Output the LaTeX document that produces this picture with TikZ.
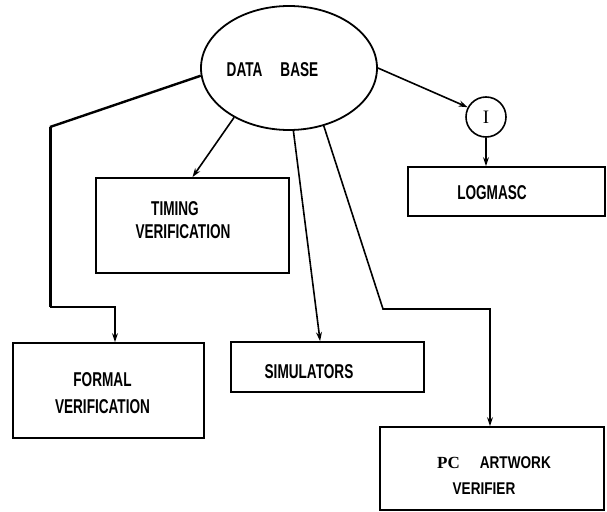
\documentclass[tikz,border=0pt]{standalone}
\usepackage{fontspec}
\setmainfont{Liberation Sans}[FakeStretch=0.68]
\newfontfamily\widesans{Liberation Sans}[FakeStretch=0.8]
\newfontfamily\pcserif{Liberation Serif}
\usetikzlibrary{arrows.meta,shapes.geometric}

\tikzset{
  conn/.style={line width=1.6pt, -{Stealth[length=9pt,width=6pt]}},
  heavyline/.style={line width=3pt},
  boxnode/.style={draw, line width=1.8pt, rectangle, inner sep=0pt},
  lbl/.style={inner sep=0pt, align=center, font=\bfseries\fontsize{20}{23}\selectfont},
}

\begin{document}
\begin{tikzpicture}[x=1pt, y=-1pt]
\useasboundingbox (0,0) rectangle (607,511);

% central data base
\node[draw, ellipse, line width=1.8pt, inner sep=0pt,
      minimum width=176pt, minimum height=124pt,
      label={[lbl, name=dbtext, xshift=-16.5pt, yshift=-2pt]center:DATA\kern18pt BASE}]
  (db) at (289,68) {};

% interface circle
\node[draw, circle, line width=1.6pt, inner sep=0pt, minimum size=40pt,
      font=\pcserif\fontsize{19}{23}\selectfont]
  (circ) at (486,117) {I};

% tool boxes
\node[boxnode, minimum width=193pt, minimum height=95pt,
      label={[lbl, name=timingtext, xshift=-9.5pt, yshift=5pt]center:TIMING\kern16pt\\VERIFICATION}]
  (timing) at (192.5,225.5) {};

\node[boxnode, minimum width=197pt, minimum height=49pt,
      label={[lbl, name=logtext, xshift=-14.5pt, yshift=-1.5pt]center:LOGMASC}]
  (logmasc) at (506.5,191.5) {};

\node[boxnode, minimum width=191pt, minimum height=95pt,
      label={[lbl, name=formaltext, xshift=-6pt, yshift=-3pt,
              font=\bfseries\fontsize{20}{27}\selectfont]center:FORMAL\\VERIFICATION}]
  (formal) at (108.5,390.5) {};

\node[boxnode, minimum width=193pt, minimum height=50pt,
      label={[lbl, name=simtext, xshift=-18.5pt, yshift=-5pt]center:SIMULATORS}]
  (sim) at (327.5,367) {};

\node[boxnode, minimum width=224pt, minimum height=83pt,
      label={[lbl, name=pctext, xshift=2pt, yshift=-7.5pt,
              font=\widesans\bfseries\fontsize{17}{26}\selectfont]center:{\pcserif\bfseries PC}\kern20pt ARTWORK\\VERIFIER\kern20pt}]
  (pc) at (492,468.5) {};

% bend points of the routed connectors
\coordinate (fb1) at (50,127);
\coordinate (fb2) at (50,307);
\coordinate (fb3) at (115,307);
\coordinate (pb1) at (383,309);
\coordinate (pb2) at (490,309);

% connectors
\draw[line width=2.4pt] (db.185) -- (fb1);
\draw[heavyline] (fb1) -- (fb2);
\draw[conn] (fb2) -- (fb3) -- (fb3 |- formal.north);
\draw[conn] (db.222) -- (timing.north);
\draw[conn] (db.274) -- ([xshift=90pt]sim.north west);
\draw[conn] (db.301) -- (pb1) -- (pb2) -- (pb2 |- pc.north);
\draw[conn] (db.east) -- (circ.152);
\draw[conn] (circ.south) -- (circ.south |- logmasc.north);
\end{tikzpicture}
\end{document}
